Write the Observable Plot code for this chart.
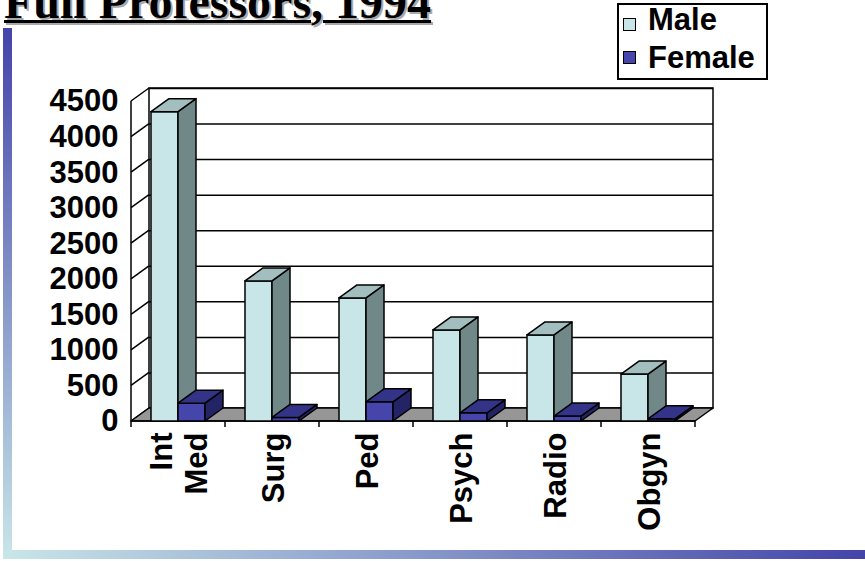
<!DOCTYPE html>
<html>
<head>
<meta charset="utf-8">
<script src="https://cdn.jsdelivr.net/npm/d3@7"></script>
<script src="https://cdn.jsdelivr.net/npm/@observablehq/plot@0.6"></script>
<style>
html,body{margin:0;padding:0;background:#fff;}
#wrap{position:relative;width:865px;height:561px;overflow:hidden;background:#fff;}
#chart{position:absolute;left:0;top:0;}
#title{position:absolute;left:4px;top:-22px;font-family:"Liberation Serif","Times New Roman",serif;font-weight:bold;font-size:48px;line-height:48px;text-decoration:underline;text-decoration-thickness:2.5px;color:#000;text-shadow:2px 2px 0 #a9a9a9;white-space:nowrap;}
#leftbar{position:absolute;left:3px;top:28px;width:9px;height:531px;background:linear-gradient(to bottom,#4444aa,#c8e6e8);}
#bottombar{position:absolute;left:3px;top:550px;width:862px;height:9px;background:linear-gradient(to right,#c8e6e8,#4444aa);}
#legend{position:absolute;left:617px;top:3px;width:147px;height:73px;border:2px solid #000;background:#fff;font-family:"Liberation Sans",Arial,sans-serif;font-weight:bold;font-size:31px;line-height:31px;}
#legend .sw{position:absolute;left:4px;width:11px;height:11px;border:1px solid #000;}
#legend .lab{position:absolute;left:29px;white-space:nowrap;}
</style>
</head>
<body>
<div id="wrap">
  <div id="chart"></div>
  <div id="leftbar"></div>
  <div id="bottombar"></div>
  <div id="title">Full Professors, 1994</div>
  <div id="legend"></div>
</div>
<script>
// ---- data ----
const categories = ["Int\nMed", "Surg", "Ped", "Psych", "Radio", "Obgyn"];
const series = ["Male", "Female"];
const male = [4350, 1970, 1730, 1280, 1210, 660];
const female = [250, 50, 270, 115, 70, 30];
const yTicks = [0, 500, 1000, 1500, 2000, 2500, 3000, 3500, 4000, 4500];

// ---- styles ----
const colors = {
  Male: {front: "#c8e6e8", top: "#a2bebe", side: "#708888"},
  Female: {front: "#4545ab", top: "#333388", side: "#232366"}
};
const DX = 18, DY = -13;          // 3-D depth offset in pixels
const SW = 1.5;                   // stroke width
const font = "'Liberation Sans', Arial, sans-serif";

function bandwidthOf(x) {
  return typeof x.bandwidth === "function" ? x.bandwidth() : (x(categories[1]) - x(categories[0]));
}

// back wall (white panel behind the gridlines)
function backWall(index, scales) {
  const {x, y} = scales;
  const bw = bandwidthOf(x);
  const x0 = x(categories[0]), x1 = x(categories[categories.length - 1]) + bw;
  const yb = y(0), yt = y(yTicks[yTicks.length - 1]);
  const g = d3.create("svg:g");
  g.append("rect").attr("x", x0 + DX).attr("y", yt + DY).attr("width", x1 - x0).attr("height", yb - yt)
    .attr("fill", "#fff").attr("stroke", "#000").attr("stroke-width", SW);
  return g.node();
}

// left wall diagonals, floor, front axis lines and category boundary ticks
function frontFrame(index, scales) {
  const {x, y} = scales;
  const bw = bandwidthOf(x);
  const x0 = x(categories[0]), x1 = x(categories[categories.length - 1]) + bw;
  const yb = y(0), yt = y(yTicks[yTicks.length - 1]);
  const g = d3.create("svg:g").attr("stroke", "#000").attr("stroke-width", SW).attr("fill", "none");
  for (const t of yTicks) {
    g.append("line").attr("x1", x0).attr("y1", y(t)).attr("x2", x0 + DX).attr("y2", y(t) + DY);
  }
  g.append("path").attr("fill", "#969696").attr("stroke-linejoin", "round")
    .attr("d", `M${x0},${yb}L${x1},${yb}L${x1 + DX},${yb + DY}L${x0 + DX},${yb + DY}Z`);
  g.append("line").attr("x1", x0).attr("y1", yb).attr("x2", x0).attr("y2", yt);
  g.append("line").attr("x1", x0).attr("y1", yb).attr("x2", x1).attr("y2", yb);
  const bounds = categories.map(c => x(c)).concat([x1]);
  for (const bx of bounds) {
    g.append("line").attr("x1", bx).attr("y1", yb).attr("x2", bx).attr("y2", yb + 6);
  }
  return g.node();
}

// side and top faces of a series' 3-D columns
function faces(values, col, inL, inR) {
  return (index, scales) => {
    const {x, y} = scales;
    const bw = bandwidthOf(x);
    const g = d3.create("svg:g").attr("stroke", "#000").attr("stroke-width", SW).attr("stroke-linejoin", "round");
    categories.forEach((c, i) => {
      const xa = x(c) + inL, xb = x(c) + bw - inR;
      const y0 = y(0), y1 = y(values[i]);
      g.append("path").attr("fill", col.side)
        .attr("d", `M${xb},${y1}L${xb + DX},${y1 + DY}L${xb + DX},${y0 + DY}L${xb},${y0}Z`);
      g.append("path").attr("fill", col.top)
        .attr("d", `M${xa},${y1}L${xa + DX},${y1 + DY}L${xb + DX},${y1 + DY}L${xb},${y1}Z`);
    });
    return g.node();
  };
}

const maleData = categories.map((c, i) => ({cat: c, value: male[i]}));
const femaleData = categories.map((c, i) => ({cat: c, value: female[i]}));

const chart = Plot.plot({
  width: 865,
  height: 561,
  marginLeft: 131,
  marginRight: 170,
  marginTop: 101,
  marginBottom: 140,
  style: {fontFamily: font, background: "transparent"},
  x: {domain: categories, padding: 0, axis: null},
  y: {domain: [0, 4500], axis: null},
  marks: [
    backWall,
    Plot.ruleY(yTicks, {dx: DX, dy: DY, stroke: "#000", strokeWidth: SW}),
    frontFrame,
    Plot.axisY({ticks: yTicks, tickSize: 10, tickPadding: 3, tickFormat: d => String(d), label: null,
      fontSize: 31, fontWeight: "bold", fill: "#000", stroke: null, strokeWidth: SW}),
    Plot.barY(maleData, {x: "cat", y: "value", fill: colors.Male.front, stroke: "#000", strokeWidth: SW,
      insetLeft: 20, insetRight: 47}),
    faces(male, colors.Male, 20, 47),
    Plot.barY(femaleData, {x: "cat", y: "value", fill: colors.Female.front, stroke: "#000", strokeWidth: SW,
      insetLeft: 47, insetRight: 20}),
    faces(female, colors.Female, 47, 20),
    Plot.text(categories, {x: d => d, y: () => 0, text: d => d, rotate: -90, textAnchor: "end",
      lineAnchor: "middle", lineHeight: 1.12, dy: 11, fontSize: 31, fontWeight: "bold", fill: "#000"})
  ]
});
document.getElementById("chart").appendChild(chart);

// legend
const legend = d3.select("#legend");
const swTop = [13, 46], labTop = [-1, 37];
series.forEach((s, i) => {
  legend.append("div").attr("class", "sw").style("top", swTop[i] + "px").style("background", colors[s].front);
  legend.append("div").attr("class", "lab").style("top", labTop[i] + "px").text(s);
});
</script>
</body>
</html>
